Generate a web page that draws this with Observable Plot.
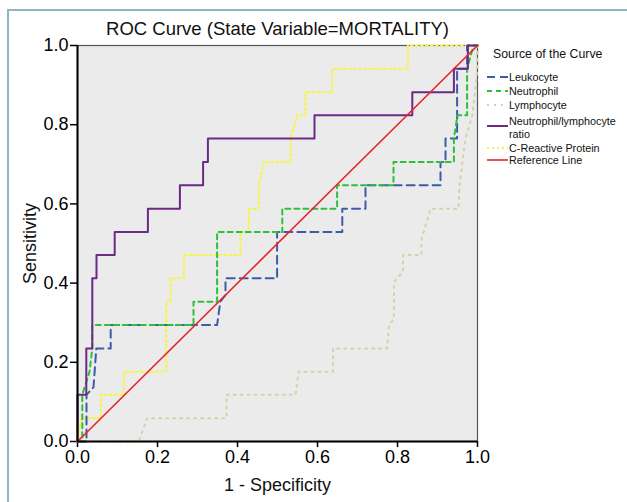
<!DOCTYPE html>
<html><head><meta charset="utf-8">
<script src="https://cdn.jsdelivr.net/npm/d3@7"></script>
<script src="https://cdn.jsdelivr.net/npm/@observablehq/plot@0.6"></script>
<style>
body{margin:0;background:#fff;font-family:"Liberation Sans",Arial,sans-serif;}
#wrap{position:relative;width:627px;height:502px;overflow:hidden;background:#fff;}
#border{position:absolute;left:7px;top:9px;width:660px;height:540px;border-left:2px solid #8fb5c3;border-top:2px solid #8fb5c3;}
#chart{position:absolute;left:0;top:0;}
#legend{position:absolute;left:484px;top:42px;}
</style></head><body>
<div id="wrap"><div id="border"></div><div id="chart"></div><svg id="legend" width="143" height="130"></svg></div>
<script>
// ROC curve corner points: [1 - specificity, sensitivity]
const leukocyte = [[0,0],[0.0225,0],[0.0225,0.118],[0.04,0.137],[0.047,0.235],[0.083,0.235],[0.083,0.294],[0.349,0.294],[0.357,0.353],[0.37,0.37],[0.37,0.412],[0.499,0.412],[0.499,0.529],[0.662,0.529],[0.662,0.588],[0.72,0.588],[0.72,0.647],[0.9075,0.647],[0.9075,0.706],[0.92,0.706],[0.92,0.765],[0.949,0.765],[0.949,0.941],[0.974,0.941],[0.974,1],[1,1]];
const neutrophil = [[0,0],[0.012,0],[0.012,0.118],[0.03,0.176],[0.037,0.235],[0.037,0.294],[0.29,0.294],[0.29,0.353],[0.349,0.353],[0.349,0.529],[0.512,0.529],[0.512,0.588],[0.649,0.588],[0.649,0.647],[0.79,0.647],[0.79,0.706],[0.941,0.706],[0.941,0.765],[0.95,0.824],[0.974,0.824],[0.974,0.941],[0.99,1],[1,1]];
const lymphocyte = [[0,0],[0.153,0],[0.174,0.0588],[0.3725,0.0588],[0.3725,0.118],[0.545,0.118],[0.5525,0.176],[0.639,0.176],[0.639,0.235],[0.774,0.235],[0.779,0.294],[0.791,0.31],[0.791,0.402],[0.814,0.43],[0.814,0.471],[0.86,0.471],[0.86,0.51],[0.8825,0.588],[0.9525,0.588],[0.955,0.647],[0.97,0.765],[0.987,0.824],[1,0.94],[1,1]];
const nlRatio = [[0,0],[0,0.118],[0.022,0.118],[0.022,0.235],[0.037,0.235],[0.037,0.412],[0.0475,0.412],[0.0475,0.471],[0.093,0.471],[0.093,0.529],[0.176,0.529],[0.176,0.588],[0.256,0.588],[0.256,0.647],[0.314,0.647],[0.314,0.706],[0.326,0.706],[0.326,0.765],[0.5925,0.765],[0.5925,0.824],[0.837,0.824],[0.837,0.882],[0.941,0.882],[0.941,0.941],[0.976,0.941],[0.976,1],[1,1]];
const crp = [[0,0],[0.01,0.0588],[0.059,0.0588],[0.059,0.118],[0.116,0.118],[0.116,0.176],[0.222,0.176],[0.222,0.353],[0.2325,0.353],[0.2325,0.412],[0.266,0.412],[0.266,0.471],[0.4075,0.471],[0.4075,0.529],[0.428,0.529],[0.428,0.588],[0.453,0.588],[0.453,0.647],[0.466,0.706],[0.5325,0.706],[0.5325,0.765],[0.55,0.824],[0.57,0.824],[0.57,0.882],[0.637,0.882],[0.637,0.941],[0.826,0.941],[0.826,1],[1,1]];
const referenceLine = [[0,0],[1,1]];

const seriesNames = ["Leukocyte","Neutrophil","Lymphocyte","Neutrophil/lymphocyte ratio","C-Reactive Protein","Reference Line"];
const seriesData = [leukocyte, neutrophil, lymphocyte, nlRatio, crp, referenceLine];
const seriesColors = ["#3d5ca8","#2fbf3a","#d3d3a6","#6b2a86","#f5f545","#e8262a"];
const seriesDash = ["8,5","5,4","2,5",null,"2,3",null];
const seriesWidth = [2,2,2,2,2,1.6];
const drawOrder = [2,4,0,1,3,5];

const xTicks = [0,0.2,0.4,0.6,0.8,1.0];
const yTicks = [0,0.2,0.4,0.6,0.8,1.0];
const titleText = "ROC Curve (State Variable=MORTALITY)";
const xLabel = "1 - Specificity";
const yLabel = "Sensitivity";
const legendTitle = "Source of the Curve";

const fmt = d3.format(".1f");
const lineMarks = drawOrder.map(i => {
  const rows = seriesData[i].map(([fpr, tpr]) => ({fpr, tpr}));
  const opts = {x: "fpr", y: "tpr", stroke: seriesColors[i], strokeWidth: seriesWidth[i]};
  if (seriesDash[i]) opts.strokeDasharray = seriesDash[i];
  return Plot.line(rows, opts);
});

const chart = Plot.plot({
  width: 627, height: 502,
  marginLeft: 77, marginRight: 150, marginTop: 45, marginBottom: 61,
  x: {domain: [0, 1]},
  y: {domain: [0, 1]},
  style: {fontFamily: "Liberation Sans, Arial, sans-serif", fontSize: "18px", background: "transparent", color: "#000"},
  marks: [
    Plot.frame({fill: "#ebebeb"}),
    Plot.frame({stroke: "#555", strokeWidth: 1.2}),
    Plot.axisY({ticks: yTicks, tickFormat: fmt, tickSize: 7, tickPadding: 2, fontSize: 18, label: null, strokeWidth: 1.5}),
    Plot.axisX({ticks: xTicks, tickFormat: fmt, tickSize: 6, tickPadding: 3, fontSize: 18, label: null, strokeWidth: 1.5}),
    ...lineMarks,
    Plot.ruleX([0], {stroke: "#000", strokeWidth: 2}),
    Plot.ruleY([0], {stroke: "#000", strokeWidth: 2}),
    Plot.text([titleText], {frameAnchor: "top", dy: -24, fontSize: 18.5, fill: "#111"}),
    Plot.text([xLabel], {frameAnchor: "bottom", dy: 49, fontSize: 18, fill: "#111"}),
    Plot.text([yLabel], {frameAnchor: "left", dx: -47, rotate: -90, textAnchor: "middle", lineAnchor: "middle", fontSize: 18, fill: "#111"})
  ]
});
document.getElementById("chart").appendChild(chart);

// Legend
const lg = d3.select("#legend");
lg.append("text").attr("x", 9).attr("y", 16).attr("font-size", 12.3).attr("fill", "#111").text(legendTitle);
const rowY = [35, 49, 63, 79, 106, 118];
const legendOrder = [0,1,2,3,4,5];
legendOrder.forEach((i, k) => {
  const y = rowY[k];
  const swY = (i === 3) ? y + 5 : y;
  const ln = lg.append("line").attr("x1", 3).attr("x2", 24).attr("y1", swY).attr("y2", swY)
    .attr("stroke", seriesColors[i]).attr("stroke-width", seriesWidth[i]);
  if (seriesDash[i]) ln.attr("stroke-dasharray", seriesDash[i]);
  const t = lg.append("text").attr("x", 25).attr("y", y + 4).attr("font-size", 10.8).attr("fill", "#111");
  if (i === 3) {
    t.append("tspan").attr("x", 25).text("Neutrophil/lymphocyte");
    t.append("tspan").attr("x", 25).attr("dy", 13).text("ratio");
  } else {
    t.text(seriesNames[i]);
  }
});
</script>
</body></html>
